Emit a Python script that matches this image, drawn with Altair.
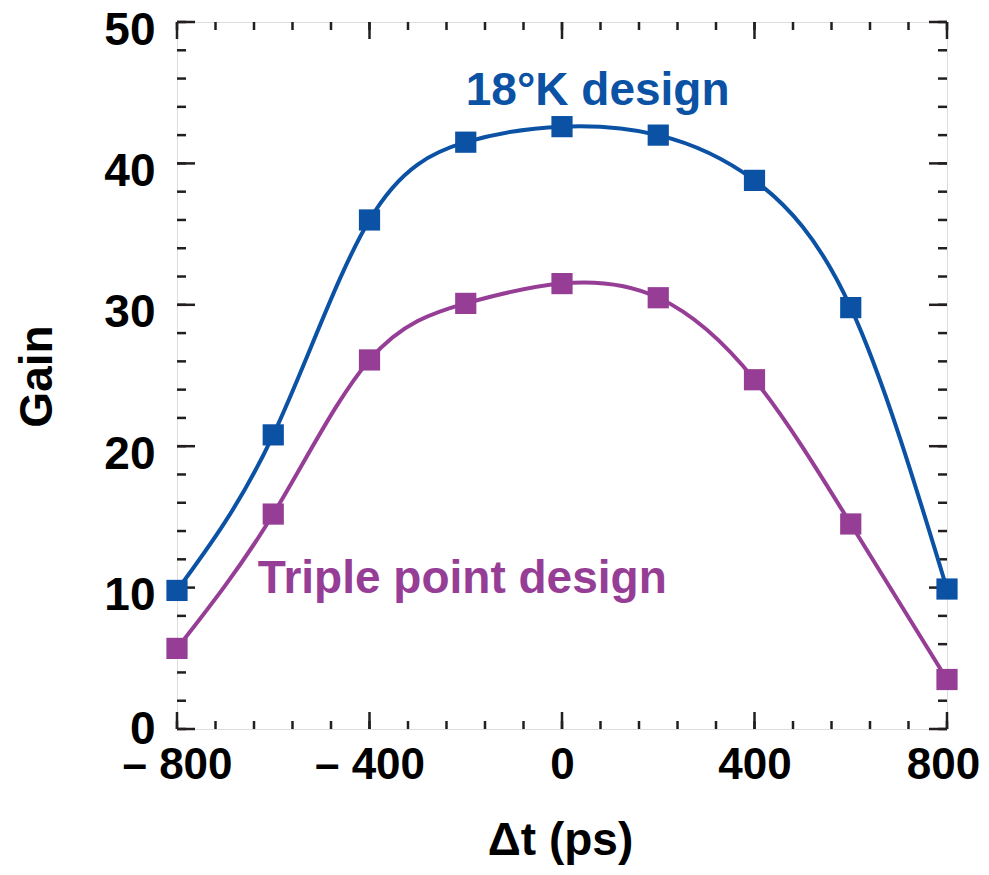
import altair as alt
import pandas as pd

# ---- data ----
dt_ps = [-800, -600, -400, -200, 0, 200, 400, 600, 800]
gain_18k = [9.8, 20.8, 36.0, 41.5, 42.6, 42.0, 38.8, 29.8, 9.9]
gain_triple = [5.7, 15.2, 26.1, 30.1, 31.5, 30.5, 24.7, 14.5, 3.5]

series_names = ["18°K design", "Triple point design"]
series_colors = ["#0B52A5", "#963E96"]

x_major = [-800, -400, 0, 400, 800]
x_minor = list(range(-800, 801, 80))
y_major = [0, 10, 20, 30, 40, 50]
y_minor = list(range(0, 51, 2))

label_text = ["18°K design", "Triple point design"]
label_x = [-200, -632]
label_y = [44.1, 9.6]

W, H = 770, 707
FONT = "Liberation Sans"
AXC = "#231F20"

df = pd.DataFrame({
    "dt": dt_ps * 2,
    "gain": gain_18k + gain_triple,
    "series": [series_names[0]] * len(dt_ps) + [series_names[1]] * len(dt_ps),
})
labels = pd.DataFrame({"text": label_text, "x": label_x, "y": label_y, "series": series_names})

xs = alt.Scale(domain=[-800, 800], nice=False, zero=False)
ys = alt.Scale(domain=[0, 50], nice=False, zero=False)
color = alt.Color("series:N", scale=alt.Scale(domain=series_names, range=series_colors), legend=None)

x_axis = alt.Axis(
    values=x_major, title="Δt (ps)", grid=False, domain=False, ticks=False,
    labelFont=FONT, labelFontSize=44, labelFontWeight="bold", labelColor="#000000",
    labelPadding=14, labelOverlap=False, labelBound=False, labelFlush=False,
    labelOffset={"condition": {"test": "datum.value == 800", "value": -4}, "value": 0},
    labelExpr="datum.value < 0 ? '– ' + abs(datum.value) : datum.label",
    titleFont=FONT, titleFontSize=46, titleFontWeight="bold", titleColor="#000000",
    titleX=383, titleY=111, titleAlign="center", titleBaseline="middle",
)
y_axis = alt.Axis(
    values=y_major, title="Gain", grid=False, domain=False, ticks=False,
    labelFont=FONT, labelFontSize=46, labelFontWeight="bold", labelColor="#000000",
    labelPadding=22, labelOverlap=False, labelBound=False, labelFlush=False,
    labelOffset={"condition": {"test": "datum.value == 0", "value": 0}, "value": 8},
    titleFont=FONT, titleFontSize=46, titleFontWeight="bold", titleColor="#000000",
    titleX=-140, titleY=354, titleAlign="center", titleBaseline="middle", titleAngle=-90,
)

base = alt.Chart(df)
lines = base.mark_line(interpolate="natural", strokeWidth=4).encode(
    x=alt.X("dt:Q", scale=xs, axis=x_axis),
    y=alt.Y("gain:Q", scale=ys, axis=y_axis),
    color=color,
    detail="series:N",
)
points = base.mark_square(size=450, opacity=1, filled=True).encode(
    x=alt.X("dt:Q", scale=xs), y=alt.Y("gain:Q", scale=ys), color=color
)
texts = alt.Chart(labels).mark_text(
    font=FONT, fontSize=46, fontWeight="bold", align="left", baseline="alphabetic"
).encode(x=alt.X("x:Q", scale=xs), y=alt.Y("y:Q", scale=ys), text="text:N", color=color)

# inward tick marks on all four sides
def xticks(vals, length):
    d = pd.DataFrame({"v": vals})
    bottom = alt.Chart(d).mark_rule(color=AXC, strokeWidth=2.5).encode(
        x=alt.X("v:Q", scale=xs), y=alt.value(H), y2=alt.value(H - length))
    top = alt.Chart(d).mark_rule(color=AXC, strokeWidth=2.5).encode(
        x=alt.X("v:Q", scale=xs), y=alt.value(0), y2=alt.value(length))
    return [bottom, top]

def yticks(vals, length):
    d = pd.DataFrame({"v": vals})
    left = alt.Chart(d).mark_rule(color=AXC, strokeWidth=2.5).encode(
        y=alt.Y("v:Q", scale=ys), x=alt.value(0), x2=alt.value(length))
    right = alt.Chart(d).mark_rule(color=AXC, strokeWidth=2.5).encode(
        y=alt.Y("v:Q", scale=ys), x=alt.value(W), x2=alt.value(W - length))
    return [left, right]

tick_layers = xticks(x_minor, 8) + xticks(x_major, 17) + yticks(y_minor, 9) + yticks(y_major, 18)

chart = alt.layer(*tick_layers, lines, points, texts).properties(
    width=W, height=H,
    autosize=alt.AutoSizeParams(type="none"),
    padding={"left": 169, "top": 14, "right": 34, "bottom": 139},
).configure_view(stroke=AXC, strokeWidth=3).configure(background="white")

chart.save("out.html", embed_options={"renderer": "svg", "actions": False})
